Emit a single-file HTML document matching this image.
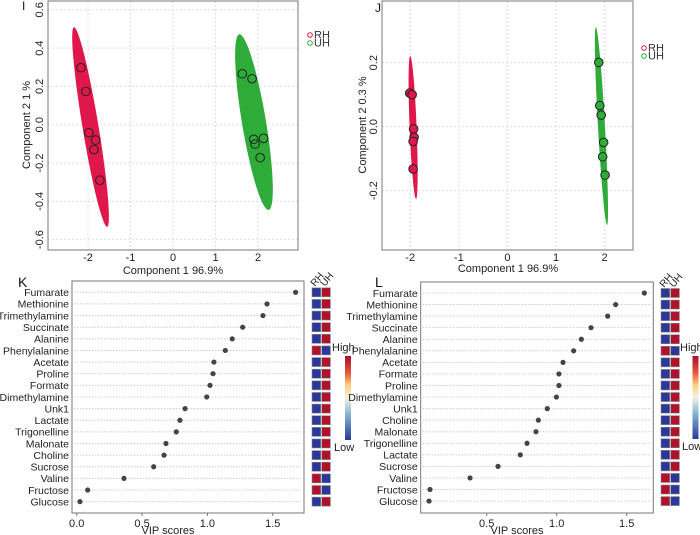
<!DOCTYPE html>
<html><head><meta charset="utf-8"><style>
body{margin:0;background:#fff;}
svg{display:block;font-family:"Liberation Sans",sans-serif;}
</style></head><body>
<svg id="fig" width="700" height="535" viewBox="0 0 700 535"></svg>
<script>
// ---- Panel I data ----
const iRedX=[-2.165,-2.05,-1.98,-1.82,-1.86,-1.72];
const iRedY=[0.298,0.174,-0.042,-0.080,-0.130,-0.290];
const iGreenX=[1.63,1.86,1.90,1.93,2.13,2.05];
const iGreenY=[0.266,0.240,-0.076,-0.101,-0.071,-0.172];
const iXTicks=[-2,-1,0,1,2];
const iYTicks=[0.6,0.4,0.2,0.0,-0.2,-0.4,-0.6];
const iYTickLabels=["0.6","0.4","0.2","0.0","-0.2","-0.4","-0.6"];
const iRedEllipse=[-2.33,0.509,-1.55,-0.533];
const iGreenEllipse=[1.56,0.472,2.25,-0.445];
// ---- Panel J data ----
const jRedX=[-2.01,-1.96,-1.93,-1.92,-1.94,-1.94];
const jRedY=[0.105,0.100,-0.007,-0.033,-0.046,-0.132];
const jGreenX=[1.88,1.90,1.93,1.98,1.96,2.01];
const jGreenY=[0.201,0.066,0.036,-0.049,-0.094,-0.151];
const jXTicks=[-2,-1,0,1,2];
const jYTicks=[0.2,0.0,-0.2];
const jYTickLabels=["0.2","0.0","-0.2"];
const jRedEllipse=[-2.0,0.221,-1.88,-0.226];
const jGreenEllipse=[1.82,0.311,2.05,-0.307];
// ---- Panel K data ----
const kNames=["Fumarate","Methionine","Trimethylamine","Succinate","Alanine","Phenylalanine","Acetate","Proline","Formate","Dimethylamine","Unk1","Lactate","Trigonelline","Malonate","Choline","Sucrose","Valine","Fructose","Glucose"];
const kVip=[1.675,1.456,1.425,1.27,1.19,1.137,1.05,1.043,1.02,0.995,0.829,0.79,0.762,0.683,0.668,0.589,0.362,0.084,0.025];
const kRHHigh=[0,0,0,0,0,1,0,0,0,0,0,0,0,0,0,0,1,1,0];
const kTicks=[0.0,0.5,1.0,1.5];
const kTickLabels=["0.0","0.5","1.0","1.5"];
// ---- Panel L data ----
const lNames=["Fumarate","Methionine","Trimethylamine","Succinate","Alanine","Phenylalanine","Acetate","Formate","Proline","Dimethylamine","Unk1","Choline","Malonate","Trigonelline","Lactate","Sucrose","Valine","Fructose","Glucose"];
const lVip=[1.626,1.421,1.364,1.245,1.176,1.121,1.045,1.016,1.016,0.998,0.933,0.869,0.852,0.788,0.74,0.581,0.381,0.095,0.088];
const lRHHigh=[0,0,0,0,0,1,0,0,0,0,0,0,0,0,0,0,1,1,1];
const lTicks=[0.5,1.0,1.5];
const lTickLabels=["0.5","1.0","1.5"];

const svg=document.getElementById('fig');
const NS='http://www.w3.org/2000/svg';
function mk(tag,attrs,parent,text){const e=document.createElementNS(NS,tag);for(const k in attrs)e.setAttribute(k,attrs[k]);if(text!==undefined)e.textContent=text;(parent||svg).appendChild(e);return e;}
const RED='#e0174b',GREEN='#2fab3a',HBLUE='#2b3897',HRED='#b0122c';

function scatter(p){
  const g=mk('g',{});
  
  
  const sx=v=>p.x0+p.ux*v, sy=v=>p.y0-p.uy*v;
  p.xt.forEach(t=>{const l=mk('line',{x1:sx(t),x2:sx(t),y1:p.top,y2:p.bot,stroke:'#ddd','stroke-dasharray':'2,2'},g);
    
    const tx=mk('text',{x:sx(t),y:p.bot+11,'font-size':11,'text-anchor':'middle',fill:'#222'},g,String(t));
    });
  p.yt.forEach((t,i)=>{const l=mk('line',{x1:p.left,x2:p.right,y1:sy(t),y2:sy(t),stroke:'#ddd','stroke-dasharray':'2,2'},g);
    
    const tx=mk('text',{x:0,y:0,'font-size':11,'text-anchor':'middle',fill:'#222',transform:`translate(${p.left-5},${sy(t)}) rotate(-90)`},g,p.yl[i]);
    });
  [[p.re,RED],[p.ge,GREEN]].forEach(([e,c])=>{
    const x1=sx(e[0]),y1=sy(e[1]),x2=sx(e[2]),y2=sy(e[3]);
    const cx=(x1+x2)/2,cy=(y1+y2)/2,len=Math.hypot(x2-x1,y2-y1)/2,ang=Math.atan2(y2-y1,x2-x1)*180/Math.PI;
    const el=mk('ellipse',{cx:cx,cy:cy,rx:len,ry:p.minor[c===RED?0:1],fill:c,transform:`rotate(${ang} ${cx} ${cy})`},g);
    });
  [[p.rx,p.ry,RED],[p.gx,p.gy,GREEN]].forEach(([xs,ys,c])=>{xs.forEach((x,i)=>{
    const pt=mk('circle',{cx:sx(x),cy:sy(ys[i]),r:4.3,fill:p.filled?c:'none',stroke:'#222','stroke-width':1},g);
    });});
  const b=mk('rect',{x:p.left,y:p.top,width:p.right-p.left,height:p.bot-p.top,fill:'none',stroke:'#777','stroke-width':1},g);
  
  const xt=mk('text',{x:p.xtx,y:p.xty,'font-size':11,'text-anchor':'middle',fill:'#222'},g,'Component 1 96.9%');
  
  const yt=mk('text',{x:0,y:0,'font-size':11,'text-anchor':'middle',fill:'#222',transform:`translate(${p.ytx},${p.yty}) rotate(-90)`},g,p.ytitle);
  
  [['RH',RED,0],['UH',GREEN,1]].forEach(([n,c,i])=>{
    const lc=mk('circle',{cx:p.lgx,cy:p.lgy+i*8,r:2.3,fill:'none',stroke:c,'stroke-width':1},g);
    
    const lt=mk('text',{x:p.lgx+4,y:p.lgy+i*8+3.5,'font-size':11,fill:'#333'},g,n);
    });
  const pl=mk('text',{x:p.lx,y:p.ly,'font-size':12,fill:'#111'},g,p.label);
  
}
scatter({name:'panel-i-pca',left:48,right:298,top:1,bot:250,x0:173,ux:42.5,y0:124.7,uy:191.5,xt:iXTicks,yt:iYTicks,yl:iYTickLabels,
 rx:iRedX,ry:iRedY,gx:iGreenX,gy:iGreenY,re:iRedEllipse,ge:iGreenEllipse,minor:[8,12],filled:false,
 xtx:173,xty:274,ytx:30,yty:125,ytitle:'Component 2  1 %',lgx:310,lgy:35,lx:22,ly:10,label:'I'});
scatter({name:'panel-j-pca',left:382,right:633,top:1,bot:250,x0:507.4,ux:48.6,y0:126.7,uy:320,xt:jXTicks,yt:jYTicks,yl:jYTickLabels,
 rx:jRedX,ry:jRedY,gx:jGreenX,gy:jGreenY,re:jRedEllipse,ge:jGreenEllipse,minor:[3.5,3.5],filled:true,
 xtx:508,xty:272,ytx:366,yty:125,ytitle:'Component 2 0.3 %',lgx:644,lgy:48,lx:375,ly:12,label:'J'});

function vip(p){
  const g=mk('g',{});
  
  
  const sx=v=>p.x0+p.ux*v, sy=i=>p.r0+p.dr*i;
  p.names.forEach((n,i)=>{
    const l=mk('line',{x1:p.left+2,x2:p.right-2,y1:sy(i),y2:sy(i),stroke:'#ccc','stroke-dasharray':'1.5,1.5'},g);
    
    const t=mk('text',{x:p.left-3,y:sy(i)+3.8,'font-size':10.5,'text-anchor':'end',fill:'#222'},g,n);
    
    const d=mk('circle',{cx:sx(p.vals[i]),cy:sy(i),r:2.6,fill:'#444'},g);
    
    const hi=p.rh[i];
    const a=mk('rect',{x:p.hx,y:sy(i)-4.5,width:8.7,height:9,fill:hi?HRED:HBLUE,stroke:'#888','stroke-width':0.6},g);
    
    const b=mk('rect',{x:p.hx+9.7,y:sy(i)-4.5,width:8.7,height:9,fill:hi?HBLUE:HRED,stroke:'#888','stroke-width':0.6},g);
    
  });
  p.ticks.forEach((t,i)=>{
    const tl=mk('line',{x1:sx(t),x2:sx(t),y1:p.bot,y2:p.bot+3,stroke:'#777'},g);
    
    const tx=mk('text',{x:sx(t),y:p.bot+14,'font-size':11,'text-anchor':'middle',fill:'#222'},g,p.tl[i]);
    });
  const fr=mk('rect',{x:p.left,y:p.top,width:p.right-p.left,height:p.bot-p.top,fill:'none',stroke:'#777','stroke-width':1},g);
  
  const xt=mk('text',{x:p.xtx,y:534,'font-size':11,'text-anchor':'middle',fill:'#222'},g,'VIP scores');
  
  [['RH',0],['UH',1]].forEach(([n,i])=>{
    const h=mk('text',{x:0,y:0,'font-size':10,fill:'#222',transform:`translate(${p.hx+3+i*9.7},${p.top+6}) rotate(-50)`},g,n);
    });
  const gid='grad'+p.label;
  const defs=mk('defs',{},g);
  const lg=mk('linearGradient',{id:gid,x1:0,y1:1,x2:0,y2:0},defs);
  [['0','#2b3897'],['0.3','#7fb3d5'],['0.5','#f2f2e0'],['0.65','#fdd17f'],['0.8','#e8553a'],['1','#a50f2c']].forEach(([o,c])=>mk('stop',{offset:o,'stop-color':c},lg));
  const cb=mk('rect',{x:p.cbx,y:p.cby,width:6,height:p.cbh,fill:`url(#${gid})`},g);
  
  const hi=mk('text',{x:p.hix,y:p.cby-5,'font-size':11,fill:'#222'},g,'High');
  
  const lo=mk('text',{x:p.hix+2,y:p.cby+p.cbh+11,'font-size':11,fill:'#222'},g,'Low');
  
  const pl=mk('text',{x:p.lx,y:p.ly,'font-size':14,fill:'#111'},g,p.label);
  
}
vip({name:'panel-k-vip',left:72,right:304,top:281,bot:513,x0:76.7,ux:130.7,r0:292.3,dr:11.63,names:kNames,vals:kVip,rh:kRHHigh,
 ticks:kTicks,tl:kTickLabels,xtx:168,hx:312,cbx:345,cby:356,cbh:84,hix:332,lx:18,ly:287,label:'K'});
vip({name:'panel-l-vip',left:420.7,right:653.3,top:282,bot:513,x0:416.7,ux:140,r0:293,dr:11.56,names:lNames,vals:lVip,rh:lRHHigh,
 ticks:lTicks,tl:lTickLabels,xtx:517,hx:661,cbx:692.5,cby:356,cbh:83,hix:680,lx:375,ly:287,label:'L'});
</script>
</body></html>
